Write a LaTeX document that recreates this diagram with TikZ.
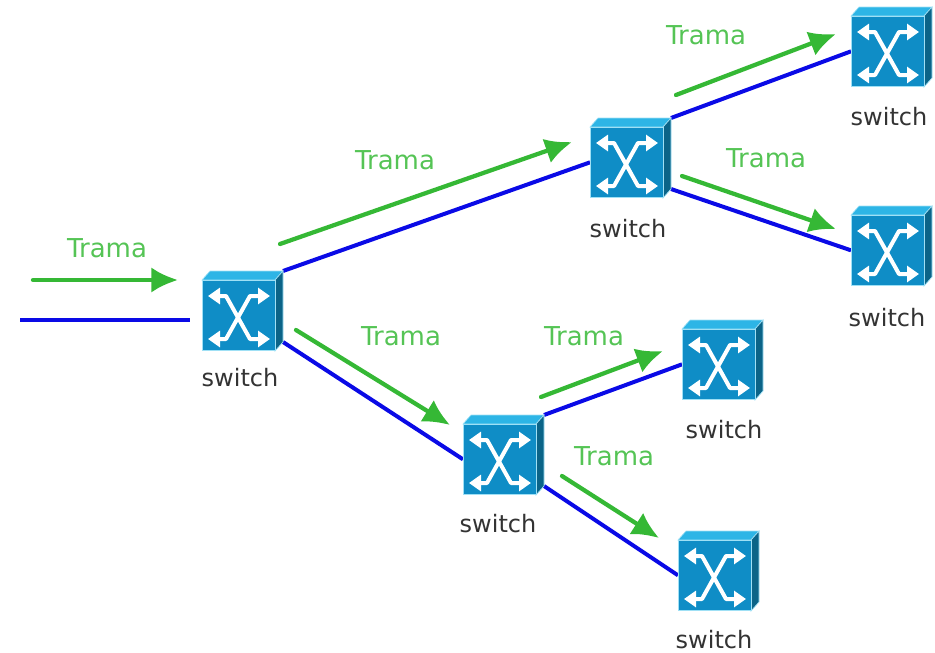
\documentclass[tikz,border=0pt]{standalone}
\usepackage{fontspec}
\setmainfont{DejaVu Sans}
\usetikzlibrary{arrows.meta,backgrounds}
\definecolor{swfront}{HTML}{0F8DC6}
\definecolor{swtop}{HTML}{2DB5E6}
\definecolor{swside}{HTML}{0B6488}
\definecolor{swhalo}{HTML}{9FE0F5}
\definecolor{linkblue}{HTML}{0A0AE6}
\definecolor{framegreen}{HTML}{35B835}
\definecolor{labelgreen}{HTML}{55C455}
\tikzset{
  x=0.75pt,y=-0.75pt,
  frontface/.style={draw=swhalo,line width=0.75pt,fill=swfront,minimum width=54.75pt,minimum height=53pt,inner sep=0pt,outer sep=0pt},
  topface/.style={draw=swhalo,line width=0.5pt,fill=swtop},
  sideface/.style={draw=swhalo,line width=0.5pt,fill=swside},
  icon/.style={draw=white,line width=3pt,line join=round,{Triangle[length=9pt,width=12pt]}-{Triangle[length=9pt,width=12pt]}},
  link/.style={draw=linkblue,line width=3pt},
  frame/.style={draw=framegreen,line width=3.2pt,line cap=round,-{Latex[length=20pt,width=19pt]}},
  framelabel/.style={text=labelgreen,font=\fontsize{19.5}{22}\selectfont},
  swlabel/.style={text=black!80,font=\fontsize{18}{22}\selectfont}
}
% #1 name, #2 left of front, #3 top of front
\newcommand{\switchbox}[3]{%
  \begin{scope}[shift={(#2,#3)}]
    \filldraw[topface] (0,0) -- (8,-9) -- (81,-9) -- (73,0) -- cycle;
    \filldraw[sideface] (73,0) -- (81,-9) -- (81,62) -- (73,71) -- cycle;
    \node[frontface,anchor=north west] (#1) at (0,0) {};
    \coordinate (#1-tr) at (81,-9);
    \coordinate (#1-br) at (81,62);
    \draw[icon] (6,16) -- (24,16) -- (48,59) -- (68,59);
    \draw[icon] (6,59) -- (24,59) -- (48,16) -- (68,16);
  \end{scope}}
\begin{document}
\begin{tikzpicture}
\useasboundingbox (0,0) rectangle (935,653);
\coordinate (in) at (20,320);
\switchbox{s1}{202}{280}
\switchbox{s2}{590}{127}
\switchbox{s3}{851}{16}
\switchbox{s4}{851}{215}
\switchbox{s5}{682}{329}
\switchbox{s6}{463}{424}
\switchbox{s7}{678}{540}
\begin{scope}[on background layer]
\draw[link,shorten >=9pt] (in) -- (s1.west |- in);
\draw[link] (s1-tr) -- (s2.west);
\draw[link] (s1-br) -- (s6.west);
\draw[link] (s2-tr) -- (s3.west);
\draw[link] (s2-br) -- (s4.west);
\draw[link] (s6-tr) -- (s5.west);
\draw[link] (s6-br) -- (s7.west);
\end{scope}
\coordinate (a0) at (33,280);  \coordinate (b0) at (178,280);
\coordinate (a1) at (280,244); \coordinate (b1) at (572,142);
\coordinate (a2) at (296,330); \coordinate (b2) at (450,425);
\coordinate (a3) at (676,95);  \coordinate (b3) at (836,34);
\coordinate (a4) at (682,176); \coordinate (b4) at (836,229);
\coordinate (a5) at (541,397); \coordinate (b5) at (663,351);
\coordinate (a6) at (562,476); \coordinate (b6) at (659,538);
\draw[frame] (a0) -- (b0);
\draw[frame] (a1) -- (b1);
\draw[frame] (a2) -- (b2);
\draw[frame] (a3) -- (b3);
\draw[frame] (a4) -- (b4);
\draw[frame] (a5) -- (b5);
\draw[frame] (a6) -- (b6);
\node[framelabel] (t0) at (107,248) {Trama};
\node[framelabel] (t1) at (395,160) {Trama};
\node[framelabel] (t2) at (401,336) {Trama};
\node[framelabel] (t3) at (706,35) {Trama};
\node[framelabel] (t4) at (766,158) {Trama};
\node[framelabel] (t5) at (584,336) {Trama};
\node[framelabel] (t6) at (614,456) {Trama};
\node[swlabel] (l1) at (240,378) {switch};
\node[swlabel] (l2) at (628,229) {switch};
\node[swlabel] (l3) at (889,117) {switch};
\node[swlabel] (l4) at (887,318) {switch};
\node[swlabel] (l5) at (724,430) {switch};
\node[swlabel] (l6) at (498,524) {switch};
\node[swlabel] (l7) at (714,640) {switch};
\end{tikzpicture}
\end{document}
